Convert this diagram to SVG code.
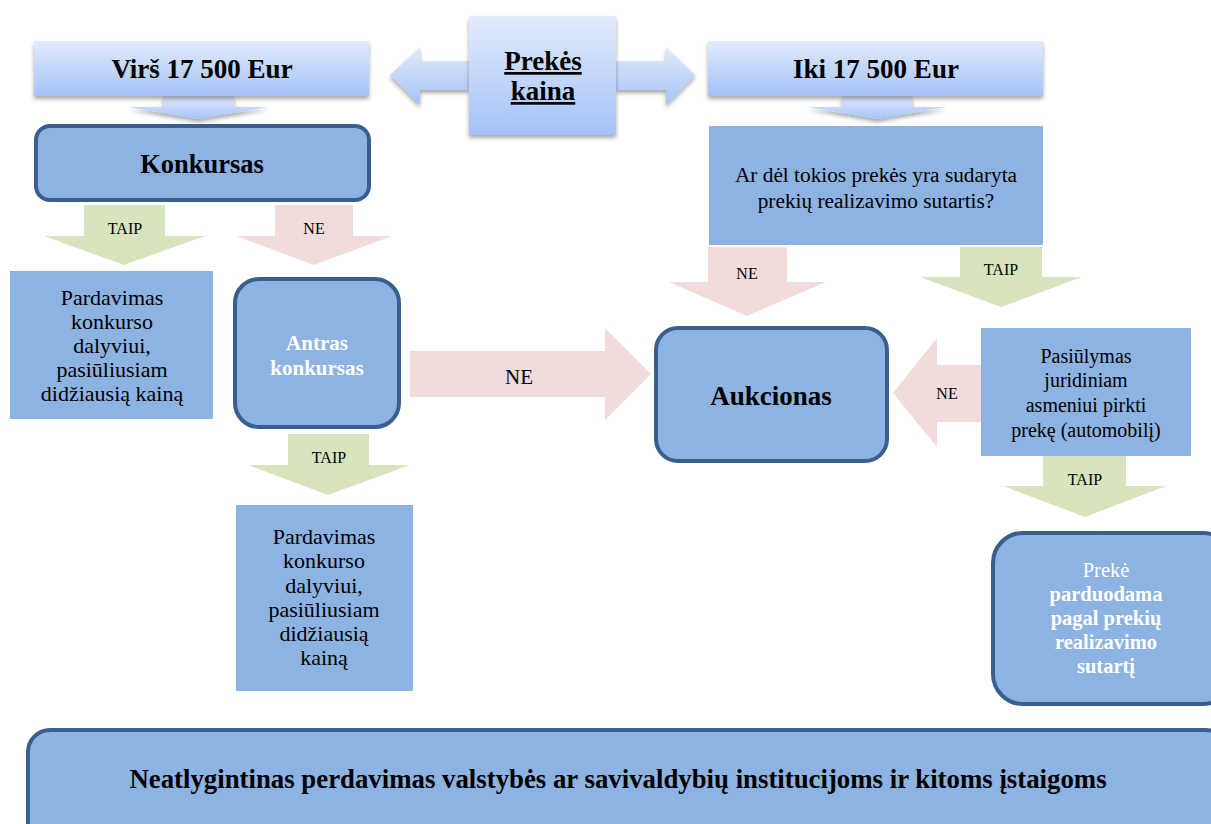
<svg xmlns="http://www.w3.org/2000/svg" width="1211" height="824" viewBox="0 0 1211 824">
<defs>
<linearGradient id="gb" x1="0" y1="0" x2="0" y2="1">
<stop offset="0" stop-color="#e2ebfc"/>
<stop offset="1" stop-color="#a5c2f7"/>
</linearGradient>
<filter id="sh" x="-10%" y="-20%" width="120%" height="150%">
<feGaussianBlur in="SourceAlpha" stdDeviation="2"/>
<feOffset dx="0" dy="3" result="b"/>
<feComponentTransfer><feFuncA type="linear" slope="0.35"/></feComponentTransfer>
<feMerge><feMergeNode/><feMergeNode in="SourceGraphic"/></feMerge>
</filter>
<style>
.t{font-family:"Liberation Serif","Times New Roman",serif;fill:#000;text-anchor:middle}
.b{font-weight:bold}
.w{fill:#fff}
.l{font-size:16px}
.box{fill:#8db3e2}
.rb{fill:#8db3e2;stroke:#3a5f8e;stroke-width:4}
.g{fill:#d7e4bd}
.p{fill:#f2dcdb}
.hd{fill:url(#gb);filter:url(#sh)}
</style>
</defs>

<g id="connectors">
<polygon class="hd" points="163,96 234,96 234,107 268,107 198,119 129,107 163,107"/>
<polygon class="hd" points="469,61 420,61 420,47 390,75 420,105 420,90 469,90"/>
<polygon class="hd" points="616,61 666,61 666,47 695,75 666,105 666,90 616,90"/>
<polygon class="hd" points="842,96 912,96 912,107 946,107 877,119 808,107 842,107"/>
<polygon class="g" points="84,205 165,205 165,236 205,236 124,265 44,236 84,236"/>
<text class="t l" x="125" y="234">TAIP</text>
<polygon class="p" points="275,205 353,205 353,236 392,236 314,265 236,236 275,236"/>
<text class="t l" x="314" y="234">NE</text>
<polygon class="g" points="288,434 369,434 369,465 410,465 328,495 248,465 288,465"/>
<text class="t l" x="329" y="463">TAIP</text>
<polygon class="p" points="410,351 605,351 605,328 651,374 605,420 605,397 410,397"/>
<text class="t" x="519" y="384" font-size="21">NE</text>
<polygon class="p" points="708,247 787,247 787,282 826,282 747,316 669,282 708,282"/>
<text class="t l" x="747" y="279">NE</text>
<polygon class="g" points="960,247 1042,247 1042,277 1082,277 1001,307 920,277 960,277"/>
<text class="t l" x="1001" y="275">TAIP</text>
<polygon class="p" points="981,365 937,365 937,338 893,393 937,447 937,422 981,422"/>
<text class="t l" x="947" y="399">NE</text>
<polygon class="g" points="1043,456 1126,456 1126,486 1166,486 1085,517 1003,486 1043,486"/>
<text class="t l" x="1085" y="485">TAIP</text>
</g>

<g id="virs">
<rect class="hd" x="34" y="41" width="335" height="55"/>
<text class="t b" x="202" y="78" font-size="27">Virš 17 500 Eur</text>
</g>

<g id="kaina">
<rect class="hd" x="469" y="16" width="147" height="119"/>
<text class="t b" x="543" y="70" font-size="27" text-decoration="underline">Prekės</text>
<text class="t b" x="543" y="100" font-size="27" text-decoration="underline">kaina</text>
</g>

<g id="iki">
<rect class="hd" x="708" y="41" width="335" height="55"/>
<text class="t b" x="876" y="78" font-size="27">Iki 17 500 Eur</text>
</g>

<g id="konkursas">
<rect class="rb" x="36" y="126" width="333" height="74" rx="14"/>
<text class="t b" x="202" y="173" font-size="26.5">Konkursas</text>
</g>

<g id="klausimas">
<rect class="box" x="709" y="126" width="334" height="119"/>
<text class="t" x="876" y="182" font-size="21.3">Ar dėl tokios prekės yra sudaryta</text>
<text class="t" x="876" y="208" font-size="21.3">prekių realizavimo sutartis?</text>
</g>

<g id="pardavimas1">
<rect class="box" x="10" y="271" width="203" height="148"/>
<text class="t" x="112" y="305" font-size="22">Pardavimas</text>
<text class="t" x="112" y="329" font-size="22">konkurso</text>
<text class="t" x="112" y="353" font-size="22">dalyviui,</text>
<text class="t" x="112" y="377" font-size="22">pasiūliusiam</text>
<text class="t" x="112" y="401" font-size="22">didžiausią kainą</text>
</g>

<g id="antras">
<rect class="rb" x="235" y="279" width="164" height="148" rx="24"/>
<text class="t b w" x="317" y="350" font-size="21">Antras</text>
<text class="t b w" x="317" y="375" font-size="21">konkursas</text>
</g>

<g id="pardavimas2">
<rect class="box" x="236" y="505" width="177" height="186"/>
<text class="t" x="324" y="544" font-size="22">Pardavimas</text>
<text class="t" x="324" y="568" font-size="22">konkurso</text>
<text class="t" x="324" y="593" font-size="22">dalyviui,</text>
<text class="t" x="324" y="617" font-size="22">pasiūliusiam</text>
<text class="t" x="324" y="641" font-size="22">didžiausią</text>
<text class="t" x="324" y="665" font-size="22">kainą</text>
</g>

<g id="aukcionas">
<rect class="rb" x="656" y="328" width="231" height="133" rx="22"/>
<text class="t b" x="771" y="405" font-size="27">Aukcionas</text>
</g>

<g id="pasiulymas">
<rect class="box" x="981" y="328" width="210" height="128"/>
<text class="t" x="1086" y="363" font-size="20">Pasiūlymas</text>
<text class="t" x="1086" y="387" font-size="20">juridiniam</text>
<text class="t" x="1086" y="412" font-size="20">asmeniui pirkti</text>
<text class="t" x="1086" y="437" font-size="20">prekę (automobilį)</text>
</g>

<g id="preke">
<rect class="rb" x="993" y="533" width="240" height="171" rx="30"/>
<text class="t w" x="1106" y="577" font-size="20.5">Prekė</text>
<text class="t b w" x="1106" y="601" font-size="20.5">parduodama</text>
<text class="t b w" x="1106" y="625" font-size="20.5">pagal prekių</text>
<text class="t b w" x="1106" y="649" font-size="20.5">realizavimo</text>
<text class="t b w" x="1106" y="673" font-size="20.5">sutartį</text>
</g>

<g id="perdavimas">
<rect class="rb" x="28" y="730" width="1200" height="120" rx="22"/>
<text class="t b" x="618" y="788" font-size="26.8">Neatlygintinas perdavimas valstybės ar savivaldybių institucijoms ir kitoms įstaigoms</text>
</g>
</svg>
